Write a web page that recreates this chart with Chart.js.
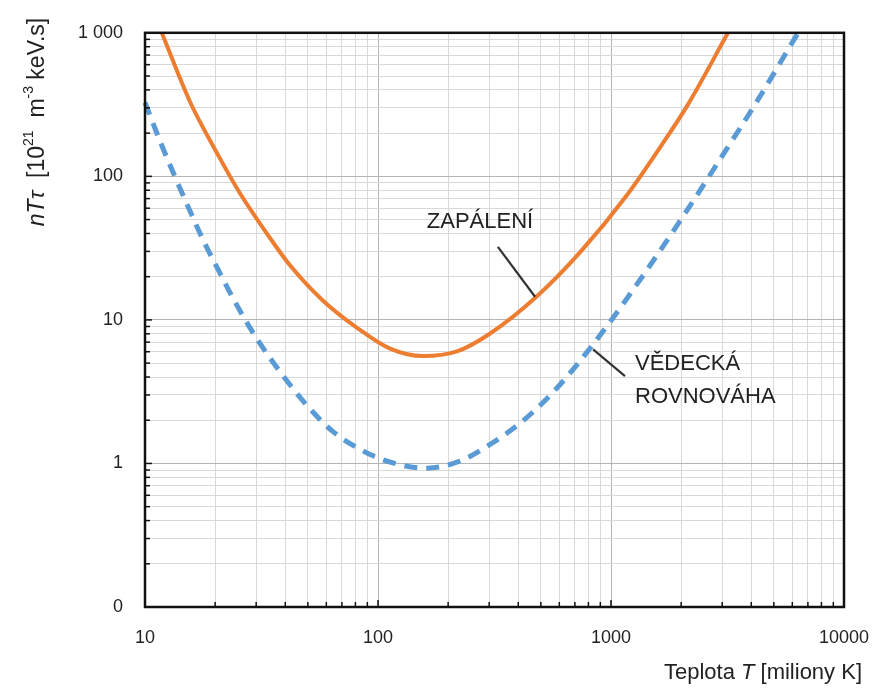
<!DOCTYPE html>
<html>
<head>
<meta charset="utf-8">
<script src="https://cdn.jsdelivr.net/npm/chart.js@4.4.1/dist/chart.umd.min.js"></script>
<style>
html,body{margin:0;padding:0;background:#fff;}
canvas{display:block;}
</style>
</head>
<body>
<canvas id="c" width="890" height="693"></canvas>
<script>
// ---- Data ----
const ignitionTemp  = [11.8, 15.6, 20.4, 25.6, 33.4, 41.9, 58.1, 81.3, 112.7, 156, 218, 303, 481, 736, 1172, 1622, 2138, 3177];
const ignitionValue = [1000, 331, 144.5, 75.9, 39.8, 24.0, 13.6, 8.81, 6.31, 5.60, 6.03, 8.04, 14.6, 29.5, 74.1, 158.5, 316, 1000];

const balanceTemp  = [10, 11.6, 13.2, 15.6, 17.7, 20.4, 23.9, 28.2, 33.4, 41.9, 51.1, 64.1, 86.3, 115.9, 162.2, 224.9, 302.7, 406.4, 510.5, 647.1, 812.8, 1021, 1429, 2037, 2938, 4236, 6353];
const balanceValue = [327, 176, 106.7, 57.3, 36.5, 23.1, 14.1, 8.83, 5.81, 3.53, 2.40, 1.667, 1.222, 1.009, 0.927, 1.040, 1.358, 1.905, 2.655, 4.018, 6.34, 10.35, 22.4, 52.6, 131.5, 334, 1000];

const xTickValues = [10, 100, 1000, 10000];
const xTickLabels = ['10', '100', '1000', '10000'];
const yTickValues = [0.1, 1, 10, 100, 1000];
const yTickLabels = ['0', '1', '10', '100', '1 000'];

const seriesNames = ['ZAPÁLENÍ', 'VĚDECKÁ ROVNOVÁHA'];
// annotation anchors in data coordinates
const ignitionLabel   = {text: 'ZAPÁLENÍ', x: 162, y: 48};
const ignitionLeader  = [{x: 327, y: 32.3}, {x: 472, y: 14.5}];
const balanceLabel    = {lines: ['VĚDECKÁ', 'ROVNOVÁHA'], x: 1268, y: [4.91, 2.90]};
const balanceLeader   = [{x: 838, y: 6.24}, {x: 1148, y: 4.06}];

// ---- helpers ----
function decadeTicks(min, max) {
  const out = [];
  for (let e = Math.round(Math.log10(min)); e < Math.round(Math.log10(max)); e++) {
    for (let s = 1; s <= 9; s++) out.push({value: +(s * Math.pow(10, e)).toPrecision(6)});
  }
  out.push({value: max});
  return out;
}
function isDecade(v) {
  const l = Math.log10(v);
  return Math.abs(l - Math.round(l)) < 1e-6;
}
function labelFor(values, labels, v) {
  for (let i = 0; i < values.length; i++) if (Math.abs(values[i] - v) / values[i] < 1e-6) return labels[i];
  return '';
}
const FONT = "'Liberation Sans', Arial, sans-serif";
const TEXT = '#222';

const overlay = {
  id: 'overlay',
  afterDraw(chart) {
    const ctx = chart.ctx, a = chart.chartArea;
    const xs = chart.scales.x, ys = chart.scales.y;
    ctx.save();
    // inner tick marks
    ctx.strokeStyle = '#111'; ctx.lineWidth = 1.5;
    ys.ticks.forEach(t => {
      const py = ys.getPixelForValue(t.value);
      ctx.beginPath(); ctx.moveTo(a.left, py); ctx.lineTo(a.left + (isDecade(t.value) ? 7 : 5), py); ctx.stroke();
    });
    xs.ticks.forEach(t => {
      const px = xs.getPixelForValue(t.value);
      ctx.beginPath(); ctx.moveTo(px, a.bottom); ctx.lineTo(px, a.bottom - (isDecade(t.value) ? 7 : 5)); ctx.stroke();
    });
    // frame
    ctx.strokeStyle = '#111'; ctx.lineWidth = 2.5;
    ctx.strokeRect(a.left, a.top, a.right - a.left, a.bottom - a.top);

    // leader lines
    ctx.strokeStyle = '#333'; ctx.lineWidth = 2.2;
    [ignitionLeader, balanceLeader].forEach(L => {
      ctx.beginPath();
      ctx.moveTo(xs.getPixelForValue(L[0].x), ys.getPixelForValue(L[0].y));
      ctx.lineTo(xs.getPixelForValue(L[1].x), ys.getPixelForValue(L[1].y));
      ctx.stroke();
    });
    // annotation texts
    ctx.fillStyle = TEXT;
    ctx.font = '22px ' + FONT;
    ctx.textBaseline = 'middle'; ctx.textAlign = 'left';
    ctx.fillText(ignitionLabel.text, xs.getPixelForValue(ignitionLabel.x), ys.getPixelForValue(ignitionLabel.y));
    balanceLabel.lines.forEach((s, i) => {
      ctx.fillText(s, xs.getPixelForValue(balanceLabel.x), ys.getPixelForValue(balanceLabel.y[i]));
    });

    // x axis title
    const xParts = [
      {t: 'Teplota ', f: '22px ' + FONT},
      {t: 'T', f: 'italic 22px ' + FONT},
      {t: ' [miliony K]', f: '22px ' + FONT}
    ];
    let w = 0;
    xParts.forEach(p => { ctx.font = p.f; p.w = ctx.measureText(p.t).width; w += p.w; });
    let cx = 862 - w;
    ctx.textBaseline = 'alphabetic';
    xParts.forEach(p => { ctx.font = p.f; ctx.fillText(p.t, cx, 679); cx += p.w; });

    // y axis title (rotated)
    const yParts = [
      {t: 'nTτ', f: 'italic 23px ' + FONT, dy: 0},
      {t: '  [10', f: '23px ' + FONT, dy: 0},
      {t: '21', f: '14px ' + FONT, dy: -9},
      {t: '  m', f: '23px ' + FONT, dy: 0},
      {t: '-3', f: '14px ' + FONT, dy: -9},
      {t: ' keV.s]', f: '23px ' + FONT, dy: 0}
    ];
    w = 0;
    yParts.forEach(p => { ctx.font = p.f; p.w = ctx.measureText(p.t).width; w += p.w; });
    ctx.translate(38, 122);
    ctx.rotate(-Math.PI / 2);
    cx = -w / 2;
    ctx.textBaseline = 'middle';
    yParts.forEach(p => { ctx.font = p.f; ctx.fillText(p.t, cx, p.dy); cx += p.w; });
    ctx.restore();
  }
};

new Chart(document.getElementById('c'), {
  type: 'scatter',
  data: {
    datasets: [
      {
        label: seriesNames[0],
        data: ignitionTemp.map((t, i) => ({x: t, y: ignitionValue[i]})),
        showLine: true, borderColor: '#ED7D31', borderWidth: 4,
        pointRadius: 0, cubicInterpolationMode: 'monotone', clip: 2
      },
      {
        label: seriesNames[1],
        data: balanceTemp.map((t, i) => ({x: t, y: balanceValue[i]})),
        showLine: true, borderColor: '#5B9BD5', borderWidth: 5, borderDash: [13, 9],
        pointRadius: 0, cubicInterpolationMode: 'monotone', clip: 2
      }
    ]
  },
  options: {
    responsive: false, animation: false, devicePixelRatio: 1,
    layout: {padding: {top: 30, right: 46, left: 0, bottom: 0}},
    plugins: {legend: {display: false}, tooltip: {enabled: false}},
    scales: {
      x: {
        type: 'logarithmic', min: 10, max: 10000,
        afterBuildTicks: s => { s.ticks = decadeTicks(10, 10000); },
        afterFit: s => { s.height = 86; },
        border: {display: false},
        grid: {
          drawTicks: false,
          color: c => (c.tick && isDecade(c.tick.value)) ? '#b4b4b4' : '#d9d9d9',
          lineWidth: 1
        },
        ticks: {
          autoSkip: false, maxRotation: 0, padding: 20, color: TEXT,
          font: {family: FONT, size: 18},
          callback: v => labelFor(xTickValues, xTickLabels, v)
        }
      },
      y: {
        type: 'logarithmic', min: 0.1, max: 1000,
        afterBuildTicks: s => { s.ticks = decadeTicks(0.1, 1000); },
        afterFit: s => { s.width = 145; },
        border: {display: false},
        grid: {
          drawTicks: false,
          color: c => (c.tick && isDecade(c.tick.value)) ? '#b4b4b4' : '#d9d9d9',
          lineWidth: 1
        },
        ticks: {
          autoSkip: false, padding: 22, color: TEXT,
          font: {family: FONT, size: 18},
          callback: v => labelFor(yTickValues, yTickLabels, v)
        }
      }
    }
  },
  plugins: [overlay]
});
</script>
</body>
</html>
